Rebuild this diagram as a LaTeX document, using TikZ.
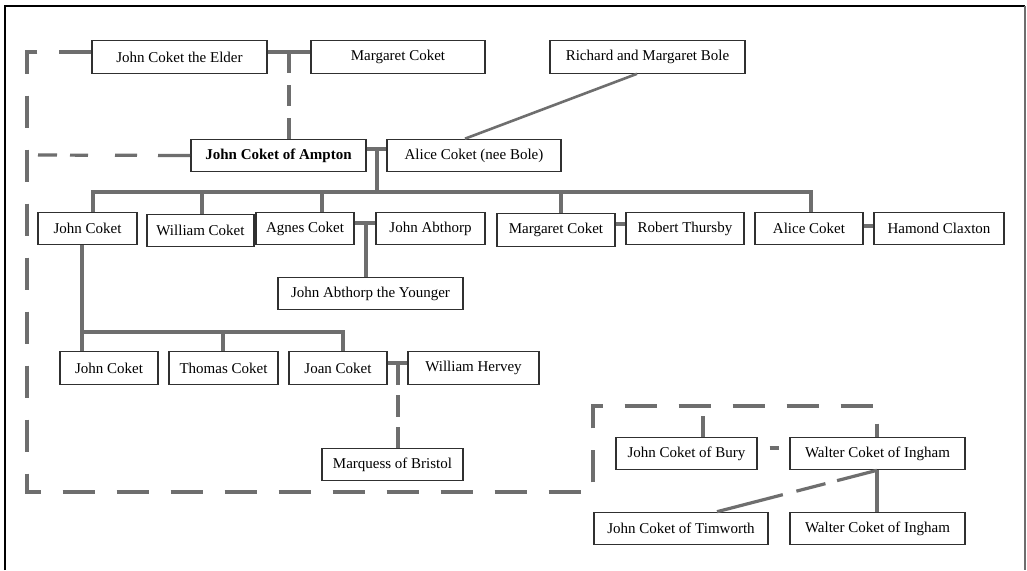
\documentclass[tikz,border=0pt]{standalone}
\usepackage{fontspec}
\setmainfont{Liberation Serif}
\usetikzlibrary{calc}
\definecolor{linegray}{HTML}{6E6E6E}
\definecolor{boxline}{HTML}{303030}
\tikzset{
  person/.style={draw=boxline, line width=1.1pt, fill=white, inner sep=0pt,
    minimum height=32.5pt, font=\fontsize{15}{17}\selectfont, text=black},
  conn/.style={draw=linegray, line width=3.2pt},
  dconn/.style={conn, dash pattern=on 32pt off 22pt},
  sdconn/.style={conn, dash pattern=on 21pt off 12pt},
}
\begin{document}
\begin{tikzpicture}[x=1pt,y=-1pt]
\useasboundingbox (0,0) rectangle (1027,570);
\fill[white] (0,0) rectangle (1027,570);
% page frame
\draw[black, line width=1.3pt] (5,570) -- (5,6) -- (1025,6);
\draw[linegray, line width=2.4pt] (1025,6) -- (1025,570);

% junction coordinates
\coordinate (m1) at (289,52);
\coordinate (m2) at (377,149);
\coordinate (barL) at (93,192);
\coordinate (barR) at (811,192);
\coordinate (m3) at (366,223);
\coordinate (m4) at (620,224);
\coordinate (m5) at (868,226);
\coordinate (jv) at (82,332);
\coordinate (bar2R) at (343,332);
\coordinate (m6) at (398,363);
\coordinate (cL1) at (27,52);
\coordinate (cL2) at (27,492);
\coordinate (cB) at (593,492);
\coordinate (cT) at (593,406);
\coordinate (cTR) at (877,406);
\coordinate (bq) at (703,406);
\coordinate (bw) at (770,448);
\coordinate (lft) at (27,155);

% generation 1
\node[person, minimum width=175pt] (elder) at (179.5,57) {John Coket the Elder};
\node[person, minimum width=174pt] (marg0) at (398,57) {Margaret Coket};
\node[person, minimum width=195pt] (bole) at (647.5,57) {Richard and Margaret Bole};
% generation 2
\node[person, minimum width=175pt, font=\fontsize{15}{17}\selectfont\bfseries] (ampton) at (278.5,155.5) {John Coket of Ampton};
\node[person, minimum width=174pt] (aliceb) at (474,155.5) {Alice Coket (nee Bole)};
% generation 3
\node[person, minimum width=99pt] (johnc) at (87.5,228.5) {John Coket};
\node[person, minimum width=107pt] (william) at (200.5,230.5) {William Coket};
\node[person, minimum width=98pt] (agnes) at (305,228.5) {Agnes Coket};
\node[person, minimum width=109pt] (abthorp) at (430.5,228.5) {John Abthorp};
\node[person, minimum width=118pt] (margaret) at (556,230) {Margaret Coket};
\node[person, minimum width=118pt] (thursby) at (685,228.5) {Robert Thursby};
\node[person, minimum width=108pt] (alice) at (809,228.5) {Alice Coket};
\node[person, minimum width=130pt] (claxton) at (939,228.5) {Hamond Claxton};
\node[person, minimum width=185pt] (younger) at (370.5,293.5) {John Abthorp the Younger};
% generation 4
\node[person, minimum width=98pt] (john3) at (109,368) {John Coket};
\node[person, minimum width=109pt] (thomas) at (223.5,368) {Thomas Coket};
\node[person, minimum width=98pt] (joan) at (338,368) {Joan Coket};
\node[person, minimum width=131pt] (hervey) at (473.5,368) {William Hervey};
\node[person, minimum width=141pt] (marquess) at (392.5,464.5) {Marquess of Bristol};
% Bury group
\node[person, minimum width=141pt] (bury) at (686.5,453.5) {John Coket of Bury};
\node[person, minimum width=175pt] (walter1) at (877.5,453.5) {Walter Coket of Ingham};
\node[person, minimum width=174pt] (timworth) at (681,528.5) {John Coket of Timworth};
\node[person, minimum width=175pt] (walter2) at (877.5,528.5) {Walter Coket of Ingham};

% connectors
\draw[conn] (elder.east |- m1) -- (marg0.west |- m1);
\draw[sdconn] (m1) -- (m1 |- ampton.north);
\draw[dconn] (elder.west |- m1) -- (cL1) -- (cL2) -- (cB) -- (cT) -- (cTR) -- (walter1.north -| cTR);
\draw[conn, dash pattern=on 0pt off 11pt on 19pt off 13pt on 18pt off 27pt on 22pt off 21pt on 32pt off 12pt] (lft) -- (ampton.west);
\draw[conn, line width=2.6pt] ($(bole.south)+(-10.5,0)$) -- ($(aliceb.north)+(-9,0)$);
\draw[conn] (ampton.east |- m2) -- (aliceb.west |- m2);
\draw[conn] (m2) -- (m2 |- barL);
\draw[conn] (johnc.north -| barL) -- (barL) -- (barR) -- (alice.north -| barR);
\draw[conn] (202,192) -- (william.north -| 202,192);
\draw[conn] (322,192) -- (agnes.north -| 322,192);
\draw[conn] (561,192) -- (margaret.north -| 561,192);
\draw[conn] (agnes.east |- m3) -- (abthorp.west |- m3);
\draw[conn] (m3) -- (m3 |- younger.north);
\draw[conn] (margaret.east |- m4) -- (thursby.west |- m4);
\draw[conn] (alice.east |- m5) -- (claxton.west |- m5);
\draw[conn] (johnc.south -| jv) -- (john3.north -| jv);
\draw[conn] (jv) -- (bar2R) -- (joan.north -| bar2R);
\draw[conn] (223,332) -- (thomas.north -| 223,332);
\draw[conn] (joan.east |- m6) -- (hervey.west |- m6);
\draw[conn, dash pattern=on 22pt off 10pt] (m6) -- (m6 |- marquess.north);
\draw[conn, dash pattern=on 0pt off 10pt on 21pt off 10pt] (bq) -- (bq |- bury.north);
\draw[conn, shorten <=12pt, shorten >=10pt] (bury.east |- bw) -- (walter1.west |- bw);
\draw[conn] (walter1.south -| cTR) -- (walter2.north -| cTR);
\draw[conn, dash pattern=on 68pt off 14pt on 30pt off 12pt on 60pt off 10pt] ($(timworth.north)+(36,0)$) -- (walter1.south -| cTR);
\end{tikzpicture}
\end{document}
